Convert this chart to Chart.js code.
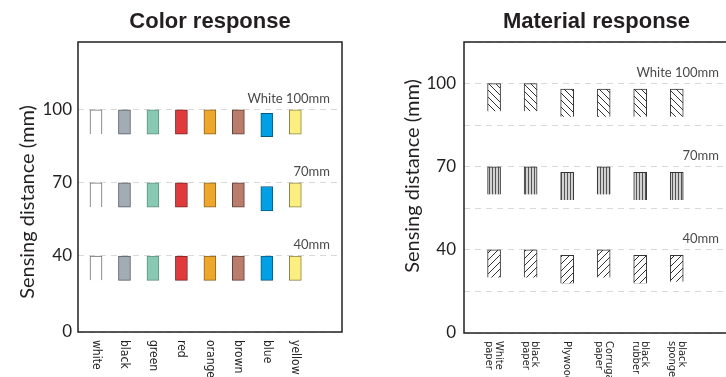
<!DOCTYPE html>
<html>
<head>
<meta charset="utf-8">
<script src="https://cdn.jsdelivr.net/npm/chart.js@4.4.1/dist/chart.umd.min.js"></script>
<style>
    html, body { margin: 0; padding: 0; background: #fff; overflow: hidden; width: 726px; height: 377px; }
    #colorBox { position: absolute; left: 0; top: 0; width: 363px; height: 377px; }
    #materialBox { position: absolute; left: 363px; top: 0; width: 366px; height: 377px; }
</style>
</head>
<body>
<div id="colorBox"><canvas id="colorCanvas"></canvas></div>
<div id="materialBox"><canvas id="materialCanvas"></canvas></div>
<script>
/* eslint-disable no-undef */

// ---- Color response ----
const colorLabels = ['white', 'black', 'green', 'red', 'orange', 'brown', 'blue', 'yellow'];
const colorAt100 = [[90, 100], [90, 100], [90, 100], [90, 100], [90, 100], [90, 100], [89, 98.5], [90, 100]];
const colorAt70 = [[60, 70], [60, 70], [60, 70], [60, 70], [60, 70], [60, 70], [58.5, 68.5], [60, 70]];
const colorAt40 = [[30, 40], [30, 40], [30, 40], [30, 40], [30, 40], [30, 40], [30, 40], [30, 40]];
const colorFills = ['#ffffff', '#a3acb4', '#88c9b3', '#e03a3c', '#eea62b', '#ba7d6b', '#00a0e4', '#fcee7f'];
const colorEdges = ['#6e6e6e', '#555a60', '#5f8f80', '#7a2222', '#8a6420', '#5e3f36', '#0a5a80', '#8a8248'];

// ---- Material response ----
const materialLabels = [['White', 'paper'], ['black', 'paper'], ['Plywood'], ['Corrugated', 'paper'], ['black', 'rubber'], ['black', 'sponge']];
const materialAt100 = [[90, 100], [90, 100], [88, 98], [88, 98], [88, 98], [88, 98]];
const materialAt70 = [[60, 70], [60, 70], [58, 68], [60, 70], [58, 68], [58, 68]];
const materialAt40 = [[30, 40], [30, 40], [28, 38], [30, 40], [28, 38], [28.5, 38]];

// axis: the bottom of each frame is drawn broken and labelled "0"
const yTickLabels = ['0', '40', '70', '100'];
const yTickValues = [0, 40, 70, 100];
const noteTexts = ['White 100mm', '70mm', '40mm'];
const noteValues = [100, 70, 40];

const INK = '#231f20';
const LIGHT = "Lato";
const NARROW = "'Liberation Sans Narrow', 'DejaVu Sans Condensed', 'Liberation Sans', sans-serif";

function tickLabel(value, floor) {
    if (Math.abs(value - floor) < 0.01) return yTickLabels[0];
    let idx = yTickValues.indexOf(Math.round(value));
    return idx > 0 ? yTickLabels[idx] : '';
}

function hatch(kind) {
    let s = kind === 'vertical' ? 3 : 7;
    let c = document.createElement('canvas');
    c.width = s; c.height = s;
    let g = c.getContext('2d');
    if (kind === 'vertical') {
        g.fillStyle = '#d2d2d2';
        g.fillRect(0, 0, s, s);
        g.strokeStyle = '#555';
        g.lineWidth = 1;
        g.beginPath(); g.moveTo(0.5, 0); g.lineTo(0.5, s); g.stroke();
    } else {
        g.fillStyle = '#ffffff';
        g.fillRect(0, 0, s, s);
        g.strokeStyle = '#333';
        g.lineWidth = 1;
        g.beginPath();
        for (let k = -1; k <= 2; k++) {
            if (kind === 'back') { g.moveTo(0, k * s); g.lineTo(s, k * s + s); }
            else { g.moveTo(0, k * s); g.lineTo(s, k * s - s); }
        }
        g.stroke();
    }
    return g.createPattern(c, 'repeat');
}

// frame, y title, rotated category names and the distance notes
function decorPlugin(cfg) {
    return {
        id: 'decor',
        afterDraw(chart) {
            let ctx = chart.ctx;
            let a = chart.chartArea;
            let xs = chart.scales.x;
            let ys = chart.scales.y;
            ctx.save();

            ctx.strokeStyle = INK;
            ctx.lineWidth = 1.5;
            ctx.strokeRect(a.left, a.top, a.right - a.left, a.bottom - a.top);

            ctx.fillStyle = INK;
            ctx.font = '20px ' + LIGHT;
            ctx.textAlign = 'center';
            ctx.textBaseline = 'middle';
            ctx.save();
            ctx.translate(cfg.titleX, cfg.titleY);
            ctx.rotate(-Math.PI / 2);
            ctx.fillText('Sensing distance (mm)', 0, 0);
            ctx.restore();

            ctx.font = cfg.labelSize + 'px ' + NARROW;
            ctx.textAlign = 'left';
            cfg.labels.forEach(function (lab, i) {
                let lines = Array.isArray(lab) ? lab : [lab];
                let x = xs.getPixelForValue(i);
                lines.forEach(function (ln, k) {
                    let off = (k - (lines.length - 1) / 2) * cfg.lineGap;
                    ctx.save();
                    ctx.translate(x - off, a.bottom + 8);
                    ctx.rotate(Math.PI / 2);
                    ctx.fillText(ln, 0, 0);
                    ctx.restore();
                });
            });

            ctx.fillStyle = '#4a4a4a';
            ctx.font = '13px ' + LIGHT;
            ctx.textAlign = 'right';
            ctx.textBaseline = 'alphabetic';
            noteTexts.forEach(function (t, i) {
                ctx.fillText(t, a.right - cfg.noteInset, ys.getPixelForValue(noteValues[i]) - 7);
            });
            ctx.restore();
        }
    };
}

function buildChart(canvasId, opt) {
    let rows = opt.rows;
    let datasets = rows.map(function (r) {
        return {
            data: r.data.map(function (v, i) { return { x: i, y: v }; }),
            backgroundColor: r.fill,
            borderColor: r.edge,
            borderWidth: 1,
            borderSkipped: r.skip,
            grouped: false,
            barThickness: opt.barWidth
        };
    });
    let ctx = document.getElementById(canvasId).getContext('2d');
    return new Chart(ctx, {
        type: 'bar',
        data: { datasets: datasets },
        plugins: [decorPlugin(opt.decor)],
        options: {
            responsive: true,
            maintainAspectRatio: false,
            animation: false,
            layout: { padding: { left: 0, right: opt.padRight, top: 0, bottom: 0 } },
            plugins: {
                legend: { display: false },
                tooltip: { enabled: false },
                title: {
                    display: true,
                    text: opt.title,
                    fullSize: false,
                    color: INK,
                    font: { family: "'Liberation Sans', Arial, sans-serif", size: 22, weight: 'bold' },
                    padding: { top: 9, bottom: 6.6 }
                }
            },
            scales: {
                x: {
                    type: 'linear',
                    offset: false,
                    min: opt.xMin,
                    max: opt.xMax,
                    ticks: { display: false },
                    grid: { display: false, offset: false },
                    border: { display: false },
                    afterFit: function (s) { s.height = opt.bottomSpace; }
                },
                y: {
                    min: opt.yFloor,
                    max: opt.yTop,
                    afterBuildTicks: function (s) {
                        s.ticks = opt.gridValues.map(function (v) { return { value: v }; });
                    },
                    afterFit: function (s) { s.width = opt.leftSpace; },
                    ticks: {
                        padding: opt.tickPad,
                        color: INK,
                        font: { family: LIGHT, size: 17, weight: 'normal' },
                        callback: function (v) { return tickLabel(v, opt.yFloor); }
                    },
                    grid: { color: '#d9d9d9', lineWidth: 1, drawTicks: false },
                    border: { display: false, dash: [6, 5] }
                }
            }
        }
    });
}

let whiteSkip = function (c) { return c.dataIndex === 0 ? 'bottom' : false; };

let colorChart = buildChart('colorCanvas', {
    title: 'Color response',
    rows: [
        { data: colorAt100, fill: colorFills, edge: colorEdges, skip: whiteSkip },
        { data: colorAt70, fill: colorFills, edge: colorEdges, skip: whiteSkip },
        { data: colorAt40, fill: colorFills, edge: colorEdges, skip: whiteSkip }
    ],
    barWidth: 12,
    padRight: 21,
    xMin: -0.632,
    xMax: 8.64,
    yFloor: 8.8,
    yTop: 127.8,
    gridValues: [8.8, 40, 70, 100],
    leftSpace: 78,
    bottomSpace: 45,
    tickPad: 6,
    decor: { titleX: 28, titleY: 202, labels: colorLabels, labelSize: 12, lineGap: 10, noteInset: 12 }
});

let materialChart = buildChart('materialCanvas', {
    title: 'Material response',
    rows: [
        { data: materialAt100, fill: hatch('back'), edge: '#333', skip: 'bottom' },
        { data: materialAt70, fill: hatch('vertical'), edge: '#333', skip: 'bottom' },
        { data: materialAt40, fill: hatch('forward'), edge: '#333', skip: 'bottom' }
    ],
    barWidth: 13,
    padRight: 0,
    xMin: -0.823,
    xMax: 6.43,
    yFloor: 10,
    yTop: 115,
    gridValues: [10, 25, 40, 55, 70, 85, 100, 115],
    leftSpace: 101,
    bottomSpace: 44,
    tickPad: 8,
    decor: { titleX: 50, titleY: 176, labels: materialLabels, labelSize: 11, lineGap: 9.5, noteInset: 10 }
});
</script>
</body>
</html>
